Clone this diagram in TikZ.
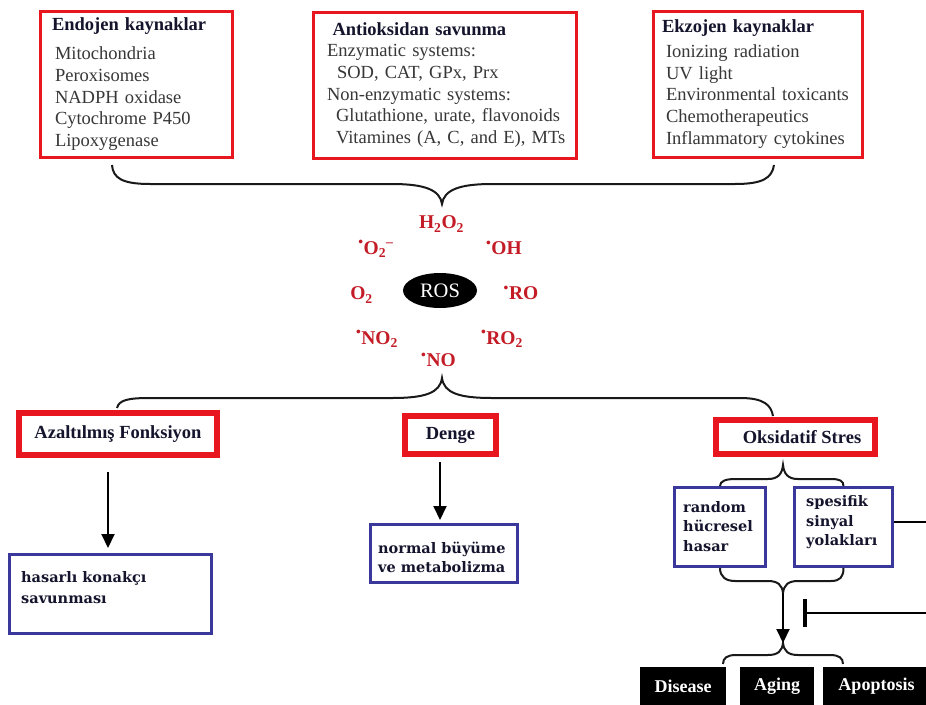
\documentclass[tikz,border=0pt]{standalone}
\usepackage{fontspec}
\setmainfont{Liberation Serif}
\newfontfamily\dvs{DejaVu Serif}
\usetikzlibrary{arrows.meta,calc,shapes.geometric}
\definecolor{boxred}{RGB}{232,22,30}
\definecolor{rosred}{RGB}{196,28,38}
\definecolor{boxblue}{RGB}{58,56,155}
\definecolor{itemgray}{RGB}{55,55,55}
\definecolor{titlenavy}{RGB}{20,20,45}
\newcommand{\rad}{\textsuperscript{•}}
\newcommand{\ttl}[1]{\textcolor{titlenavy}{\textbf{#1}}}
\begin{document}
\begin{tikzpicture}[x=1pt,y=-1pt,
  topbox/.style={draw=boxred, line width=3pt, align=left, inner xsep=0pt, inner ysep=0pt,
    font=\fontsize{18.5}{21.7}\selectfont, text=itemgray},
  redbox/.style={draw=boxred, line width=6pt, inner sep=0pt,
    font=\fontsize{18.5}{22}\selectfont\bfseries, text=titlenavy},
  bluebox/.style={draw=boxblue, line width=3pt, inner sep=0pt},
  bluetxt/.style={align=left, inner sep=0pt, text=titlenavy},
  blk/.style={fill=black, inner sep=0pt, text=white, font=\fontsize{18}{20}\selectfont\bfseries},
  rosl/.style={text=rosred, inner sep=0pt, font=\fontsize{19.5}{21}\selectfont\bfseries},
  brc/.style={line width=2pt, draw=black!90},
  arr/.style={line width=2pt, -{Triangle[length=14pt,width=13pt]}}]
\useasboundingbox (0,0) rectangle (926,704);
\fill[white] (0,0) rectangle (926,704);

% top boxes
\node[topbox, minimum width=192pt, minimum height=146pt, text width=168pt] (endo) at (136,84)
  {\ttl{Endojen kaynaklar}\\[8pt]
   \hspace*{3pt}Mitochondria\\ \hspace*{3pt}Peroxisomes\\ \hspace*{3pt}NADPH oxidase\\
   \hspace*{3pt}Cytochrome P450\\ \hspace*{3pt}Lipoxygenase};
\node[topbox, minimum width=263pt, minimum height=146pt, text width=244pt] (anti) at (444.5,85)
  {\hspace*{10pt}\ttl{Antioksidan savunma}\\
   \hspace*{4.5pt}Enzymatic systems:\\ \hspace*{14.5pt}SOD, CAT, GPx, Prx\\ \hspace*{4.5pt}Non-enzymatic systems:\\
   \hspace*{13.5pt}Glutathione, urate, flavonoids\\ \hspace*{13.5pt}Vitamines (A, C, and E), MTs};
\node[topbox, minimum width=209pt, minimum height=146pt, text width=191pt] (ekzo) at (757.5,84)
  {\ttl{Ekzojen kaynaklar}\\[3pt]
   \hspace*{4pt}Ionizing radiation\\ \hspace*{4pt}UV light\\ \hspace*{4pt}Environmental toxicants\\
   \hspace*{4pt}Chemotherapeutics\\ \hspace*{4pt}Inflammatory cytokines};

% top brace
\coordinate (tb1) at (112,165);
\coordinate (tb2) at (774,165);
\coordinate (tbtip) at (442,204);
\draw[brc] (tb1) .. controls (113,178) and (122,184) .. (150,184) -- (392,184)
  .. controls (425,184) and (440,190) .. (tbtip)
  .. controls (444,190) and (459,184) .. (492,184) -- (735,184)
  .. controls (763,184) and (772,178) .. (tb2);

% ROS
\node[ellipse, fill=black, minimum width=74pt, minimum height=35pt, inner sep=0pt,
  text=white, font=\fontsize{20.5}{21}\selectfont] (ros) at (440,290.5) {ROS};
\node[rosl] (h2o2) at (441.5,224) {H\textsubscript{2}O\textsubscript{2}};
\node[rosl] (o2m) at (376,249) {\rad O\textsubscript{2}\textsuperscript{–}};
\node[rosl] (oh) at (504,248) {\rad OH};
\node[rosl] (o2) at (361.5,295) {O\textsubscript{2}};
\node[rosl] (ro) at (521,293) {\rad RO};
\node[rosl] (no2) at (377,339) {\rad NO\textsubscript{2}};
\node[rosl] (ro2) at (502,339) {\rad RO\textsubscript{2}};
\node[rosl] (no) at (438.5,360) {\rad NO};

% bottom brace
\coordinate (bb1) at (117,408);
\coordinate (bb2) at (773,416);
\coordinate (bbtip) at (442,378);
\draw[brc] (bb1) .. controls (119,400) and (128,398) .. (150,398) -- (392,398)
  .. controls (425,398) and (440,393) .. (bbtip)
  .. controls (444,393) and (459,398) .. (492,398) -- (740,398)
  .. controls (764,398) and (771,405) .. (bb2);

% second level
\node[redbox, minimum width=198pt, minimum height=42pt] (azal) at (118,434) {Azaltılmış Fonksiyon};
\node[redbox, minimum width=91pt, minimum height=38pt] (denge) at (450.5,435) {Denge};
\node[redbox, minimum width=159pt, minimum height=34pt] (oks) at (795.5,437) {\hspace*{13pt}Oksidatif Stres};

% blue boxes
\node[bluebox, minimum width=202pt, minimum height=79pt] (hasar) at (110.5,594) {};
\node[bluetxt, anchor=west, font=\dvs\fontsize{14.5}{21}\selectfont\bfseries] (hasarT) at (21,587.5)
  {hasarlı konakçı\\savunması};
\node[bluebox, minimum width=147pt, minimum height=58pt] (normal) at (444,553.5) {};
\node[bluetxt, anchor=west, font=\dvs\fontsize{14.5}{19}\selectfont\bfseries] (normalT) at (378,557.5)
  {normal büyüme\\ve metabolizma};
\node[bluebox, minimum width=91pt, minimum height=79pt] (rand) at (720,527) {};
\node[bluetxt, anchor=west, font=\dvs\fontsize{14.5}{19.5}\selectfont\bfseries] (randT) at (683,526.5)
  {random\\hücresel\\hasar};
\node[bluebox, minimum width=98pt, minimum height=79pt] (spes) at (843.5,527) {};
\node[bluetxt, anchor=west, font=\dvs\fontsize{14.5}{19.5}\selectfont\bfseries] (spesT) at (806,522.5)
  {spesifik\\sinyal\\yolakları};

% arrows
\draw[arr] ($(azal.south)+(-10,14)$) -- ($(hasar.north)+(-2.5,-5)$);
\draw[arr] ($(denge.south)+(-10.5,5)$) -- ($(normal.north)+(-4,-3)$);

% small braces
\draw[brc] (rand.north) .. controls (720,481) and (726,479) .. (735,479) -- (768,479)
  .. controls (778,479) and (782,474) .. (783,465)
  .. controls (784,474) and (788,479) .. (798,479) -- (831,479)
  .. controls (840,479) and (843.5,481) .. (spes.north);
\coordinate (tipB) at (783,593);
\draw[brc] (rand.south) .. controls (720,577) and (726,581) .. (735,581) -- (768,581)
  .. controls (778,581) and (782,585) .. (tipB)
  .. controls (784,585) and (788,581) .. (798,581) -- (831,581)
  .. controls (840,581) and (843.5,577) .. (spes.south);

% black boxes
\node[blk, minimum width=86pt, minimum height=38pt] (dis) at (683,686) {Disease};
\node[blk, minimum width=74pt, minimum height=38pt] (aging) at (777,686) {Aging};
\node[blk, minimum width=107pt, minimum height=38pt] (apop) at (876.5,686) {Apoptosis};

\coordinate (c1) at (723,664);
\coordinate (c2) at (843,664);
\coordinate (tipC) at (783,643);
\draw[brc] (c1) .. controls (723,658) and (727,655) .. (736,655) -- (768,655)
  .. controls (778,655) and (782,651) .. (tipC)
  .. controls (784,651) and (788,655) .. (798,655) -- (830,655)
  .. controls (839,655) and (843,658) .. (c2);
\draw[arr] (tipB) -- (tipC);

% inhibitor and right lines
\coordinate (spesR) at (930,522);
\coordinate (inhR) at (930,613);
\coordinate (inhL) at (803,613);
\draw[line width=2.5pt] ($(spes.east)+(0,-5)$) -- (spesR);
\draw[line width=2.5pt, -{Bar[width=28pt,line width=3.5pt]}] (inhR) -- (inhL);
\end{tikzpicture}
\end{document}
